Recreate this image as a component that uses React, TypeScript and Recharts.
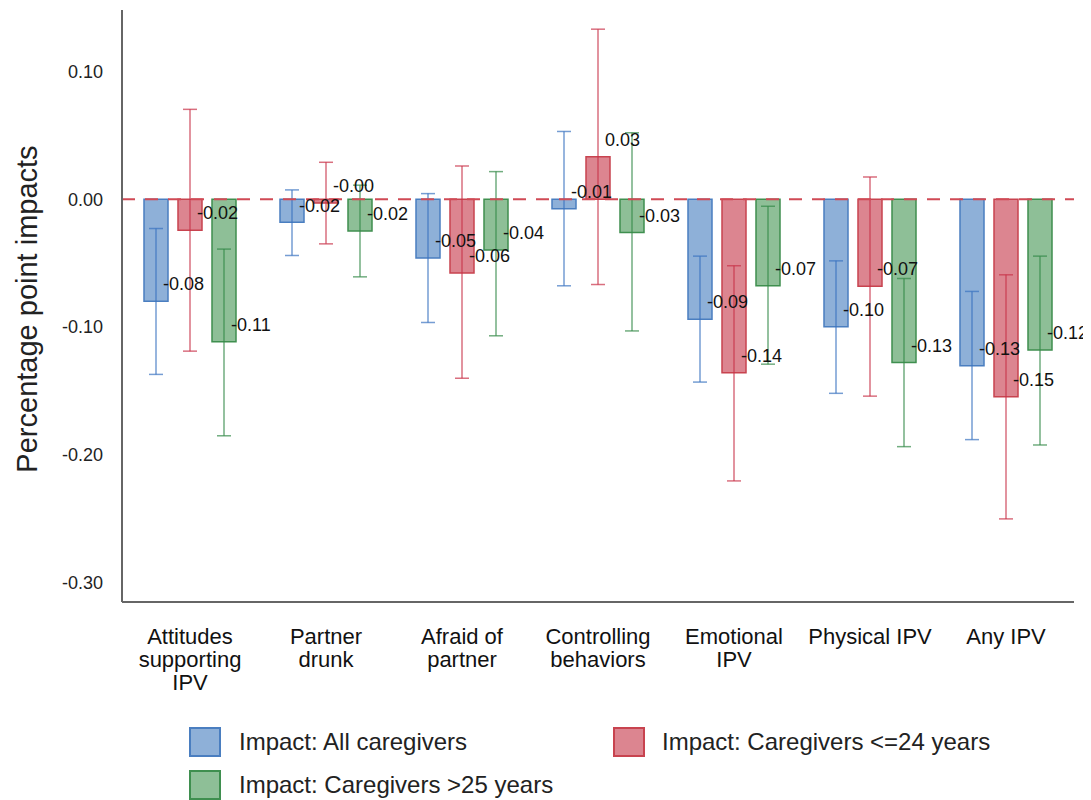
import React from "react";
import {
  BarChart,
  Bar,
  XAxis,
  YAxis,
  ErrorBar,
  LabelList,
  ReferenceLine,
  Legend,
} from "recharts";

const FONT = '"Liberation Sans", Arial, sans-serif';

const categories = [
  "Attitudes supporting IPV",
  "Partner drunk",
  "Afraid of partner",
  "Controlling behaviors",
  "Emotional IPV",
  "Physical IPV",
  "Any IPV",
];
const categoryLines = [
  ["Attitudes", "supporting", "IPV"],
  ["Partner", "drunk"],
  ["Afraid of", "partner"],
  ["Controlling", "behaviors"],
  ["Emotional", "IPV"],
  ["Physical IPV"],
  ["Any IPV"],
];

// point estimates
const allImpact = [-0.0797, -0.018, -0.0459, -0.0075, -0.0938, -0.0997, -0.1302];
const youngImpact = [-0.0242, -0.003, -0.0576, 0.0333, -0.1357, -0.068, -0.1544];
const olderImpact = [-0.1115, -0.0248, -0.0398, -0.026, -0.0677, -0.1276, -0.118];

// confidence intervals
const allLow = [-0.137, -0.044, -0.0964, -0.0677, -0.143, -0.1518, -0.188];
const allHigh = [-0.0229, 0.0073, 0.0044, 0.053, -0.0445, -0.0482, -0.0721];
const youngLow = [-0.1188, -0.0349, -0.14, -0.0667, -0.2203, -0.154, -0.25];
const youngHigh = [0.0703, 0.0289, 0.026, 0.133, -0.052, 0.0174, -0.0591];
const olderLow = [-0.185, -0.0607, -0.1068, -0.103, -0.129, -0.1935, -0.1922];
const olderHigh = [-0.039, 0.011, 0.0216, 0.052, -0.0055, -0.062, -0.0445];

const yTicks = [-0.3, -0.2, -0.1, 0, 0.1];

const series = [
  { key: "all", name: "Impact: All caregivers", fill: "#8eb0d8", stroke: "#4a7ec0", err: "#3a74c0" },
  { key: "young", name: "Impact: Caregivers <=24 years", fill: "#dc8590", stroke: "#c8434f", err: "#c93248" },
  { key: "older", name: "Impact: Caregivers >25 years", fill: "#8ebf97", stroke: "#3f8f4f", err: "#348a48" },
];

const data = categories.map((c, i) => ({
  category: c,
  all: allImpact[i],
  allErr: [allImpact[i] - allLow[i], allHigh[i] - allImpact[i]],
  young: youngImpact[i],
  youngErr: [youngImpact[i] - youngLow[i], youngHigh[i] - youngImpact[i]],
  older: olderImpact[i],
  olderErr: [olderImpact[i] - olderLow[i], olderHigh[i] - olderImpact[i]],
}));

const CategoryTick = (props: any) => {
  const { x, y, payload } = props;
  const lines = categoryLines[categories.indexOf(payload.value)] || [payload.value];
  return (
    <text x={x} y={y + 42} textAnchor="middle" fontSize={22} fill="#111" fontFamily={FONT}>
      {lines.map((l, i) => (
        <tspan key={i} x={x} dy={i === 0 ? 0 : 23}>
          {l}
        </tspan>
      ))}
    </text>
  );
};

const ValueLabel = (props: any) => {
  const { x, y, width, height, value } = props;
  const v = Number(value);
  const end = v < 0 ? Math.max(y, y + height) : Math.min(y, y + height);
  return (
    <text x={x + width - 5} y={end - 17} dy="0.35em" fontSize={18} fill="#111" fontFamily={FONT}>
      {v.toFixed(2)}
    </text>
  );
};

const legendSpots = [
  { left: 181, top: 7, text: 231 },
  { left: 605, top: 7, text: 654 },
  { left: 181, top: 50, text: 231 },
];

const LegendBox = () => (
  <div style={{ position: "relative", height: 80, fontFamily: FONT }}>
    {series.map((s, i) => (
      <React.Fragment key={s.key}>
        <div
          style={{
            position: "absolute",
            left: legendSpots[i].left,
            top: legendSpots[i].top,
            width: 28,
            height: 26,
            background: s.fill,
            border: `2px solid ${s.stroke}`,
          }}
        />
        <div
          style={{
            position: "absolute",
            left: legendSpots[i].text,
            top: legendSpots[i].top,
            lineHeight: "30px",
            fontSize: 24,
            color: "#222",
            whiteSpace: "nowrap",
          }}
        >
          {s.name}
        </div>
      </React.Fragment>
    ))}
  </div>
);

export default function App() {
  return (
    <BarChart
      width={1083}
      height={792}
      data={data}
      margin={{ top: 2, right: 17, left: 0, bottom: 0 }}
      barSize={24}
      barGap={10}
      style={{ fontFamily: FONT }}
    >
      <XAxis
        dataKey="category"
        tick={<CategoryTick />}
        tickLine={false}
        tickSize={0}
        tickMargin={0}
        height={118}
        interval={0}
        axisLine={{ stroke: "#666", strokeWidth: 2 }}
      />
      <YAxis
        type="number"
        domain={[-0.315, 0.148]}
        allowDataOverflow
        ticks={yTicks}
        tickFormatter={(v: number) => v.toFixed(2)}
        tick={{ fontSize: 18, fill: "#222", fontFamily: FONT }}
        tickLine={false}
        tickSize={8}
        tickMargin={11}
        width={114}
        axisLine={{ stroke: "#666", strokeWidth: 2 }}
        label={{
          content: () => (
            <text
              x={29}
              y={301}
              transform="rotate(-90, 29, 301)"
              textAnchor="middle"
              fontSize={29}
              fill="#222"
              fontFamily={FONT}
            >
              Percentage point impacts
            </text>
          ),
        }}
      />
      <Legend verticalAlign="bottom" content={<LegendBox />} />
      {series.map((s) => (
        <Bar
          key={s.key}
          dataKey={s.key}
          name={s.name}
          fill={s.fill}
          stroke={s.stroke}
          strokeWidth={1.5}
          isAnimationActive={false}
        >
          <ErrorBar
            dataKey={`${s.key}Err`}
            width={7}
            stroke={s.err}
            strokeWidth={1.5}
            strokeOpacity={0.7}
          />
          <LabelList dataKey={s.key} content={<ValueLabel />} />
        </Bar>
      ))}
      <ReferenceLine y={0} stroke="#d04a55" strokeWidth={2} strokeDasharray="13 10" />
    </BarChart>
  );
}
